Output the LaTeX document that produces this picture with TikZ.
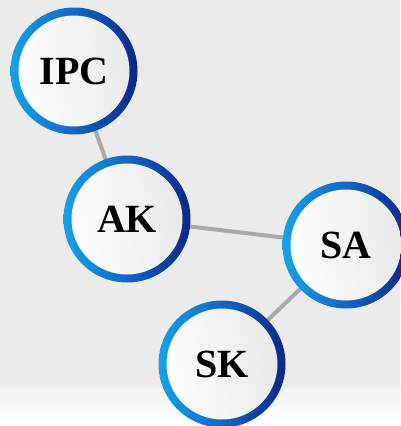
\documentclass[tikz,border=0pt]{standalone}
\usepackage{fontspec}
\setmainfont{Liberation Serif}
\usetikzlibrary{backgrounds}
\definecolor{bgGray}{HTML}{EBEBEB}
\definecolor{ringLight}{HTML}{14A2E8}
\definecolor{ringMid}{HTML}{1466C4}
\definecolor{ringDark}{HTML}{0B2687}
\definecolor{innerGray}{HTML}{E8E8E8}
\definecolor{edgeGray}{HTML}{A9A9A9}
\pgfdeclarelayer{bglayer}
\pgfdeclarelayer{edgelayer}
\pgfsetlayers{bglayer,edgelayer,main}
\tikzset{
  hub/.style={circle, minimum size=127pt, inner sep=0pt,
    left color=ringLight, right color=ringDark, middle color=ringMid,
    font=\fontsize{40}{48}\selectfont\bfseries,
    text depth=-2pt,
    path picture={
      \shade[shading=axis, left color=white, right color=innerGray, shading angle=100]
        (path picture bounding box.center) circle (55.5pt);
    }},
  link/.style={draw=edgeGray, line width=4pt}
}
\begin{document}
\begin{tikzpicture}[x=1pt,y=-1pt]
\useasboundingbox (0,0) rectangle (400,426);
\begin{pgfonlayer}{bglayer}
  \fill[bgGray] (0,0) rectangle (400,388);
  \shade[top color=bgGray!60, bottom color=white] (0,388) rectangle (400,426);
\end{pgfonlayer}
\node[hub] (ipc) at (74,71) {IPC};
\node[hub] (ak) at (127,219) {AK};
\node[hub] (sa) at (346,245) {SA};
\node[hub] (sk) at (222,364) {SK};
\begin{pgfonlayer}{edgelayer}
  \draw[link] (ipc.center) -- (ak.center);
  \draw[link] (ak.center) -- (sa.center);
  \draw[link] (sa.center) -- (sk.center);
\end{pgfonlayer}
\end{tikzpicture}
\end{document}
